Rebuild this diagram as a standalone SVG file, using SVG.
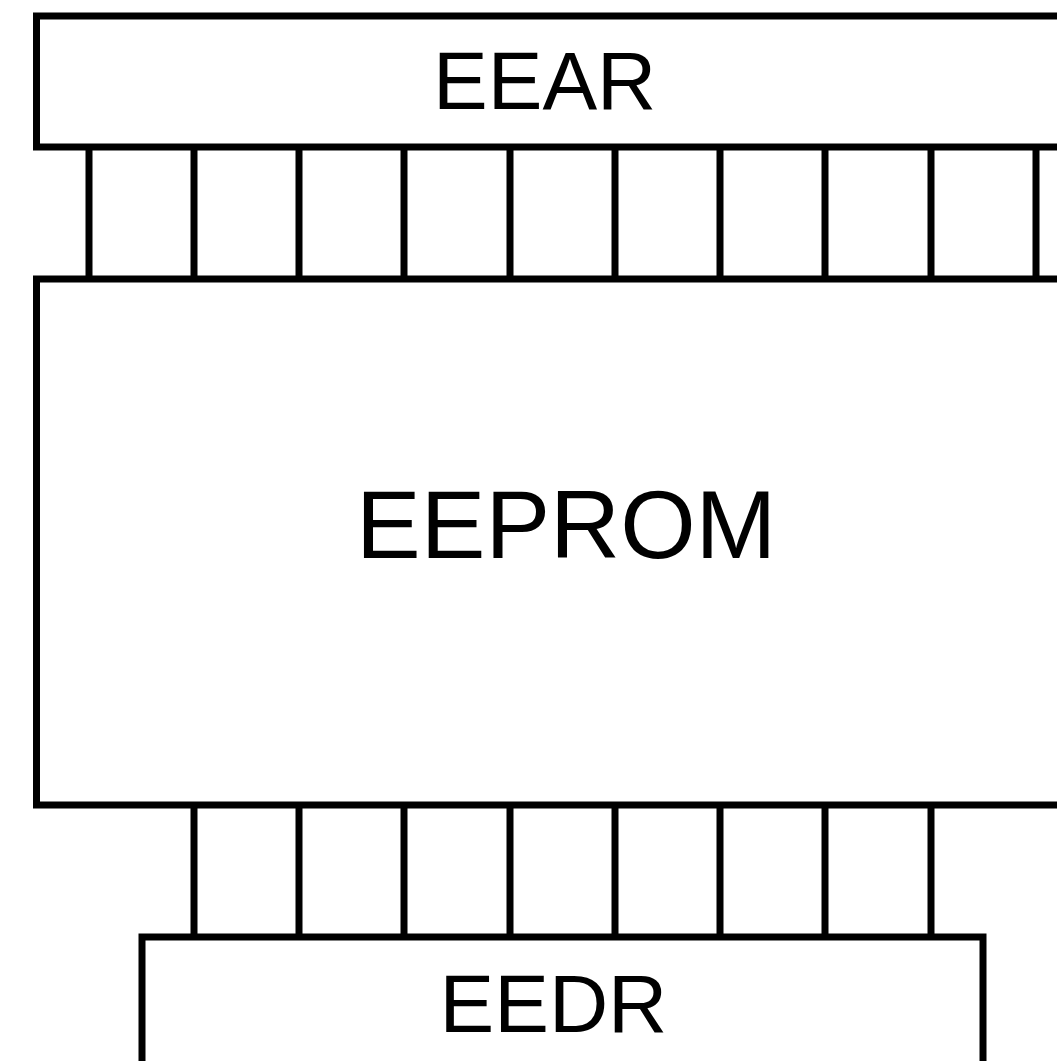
<svg xmlns="http://www.w3.org/2000/svg" width="1057" height="1061" viewBox="0 0 1057 1061">
<style>
.box{fill:#fff;stroke:#000;stroke-width:7}
.bus{stroke:#000;stroke-width:7;fill:none}
.lbl{font-family:"Liberation Sans",Arial,sans-serif;fill:#000}
</style>
<rect width="1057" height="1061" fill="#fff"/>
<g id="connectors">
<path class="bus" d="M89,147V279M194,147V279M299,147V279M404,147V279M510,147V279M615,147V279M720,147V279M825,147V279M931,147V279M1036,147V279"/>
<path class="bus" d="M194,805V937M299,805V937M404,805V937M510,805V937M615,805V937M720,805V937M825,805V937M931,805V937"/>
</g>
<g id="eear">
<rect class="box" x="36.5" y="16" width="1100" height="131"/>
<text class="lbl" x="433" y="109.3" font-size="82">EEAR</text>
</g>
<g id="eeprom">
<rect class="box" x="36.5" y="279" width="1100" height="526"/>
<text class="lbl" x="356" y="558" font-size="97">EEPROM</text>
</g>
<g id="eedr">
<rect class="box" x="142" y="937" width="841" height="200"/>
<text class="lbl" x="439.5" y="1031.7" font-size="82">EEDR</text>
</g>
</svg>
